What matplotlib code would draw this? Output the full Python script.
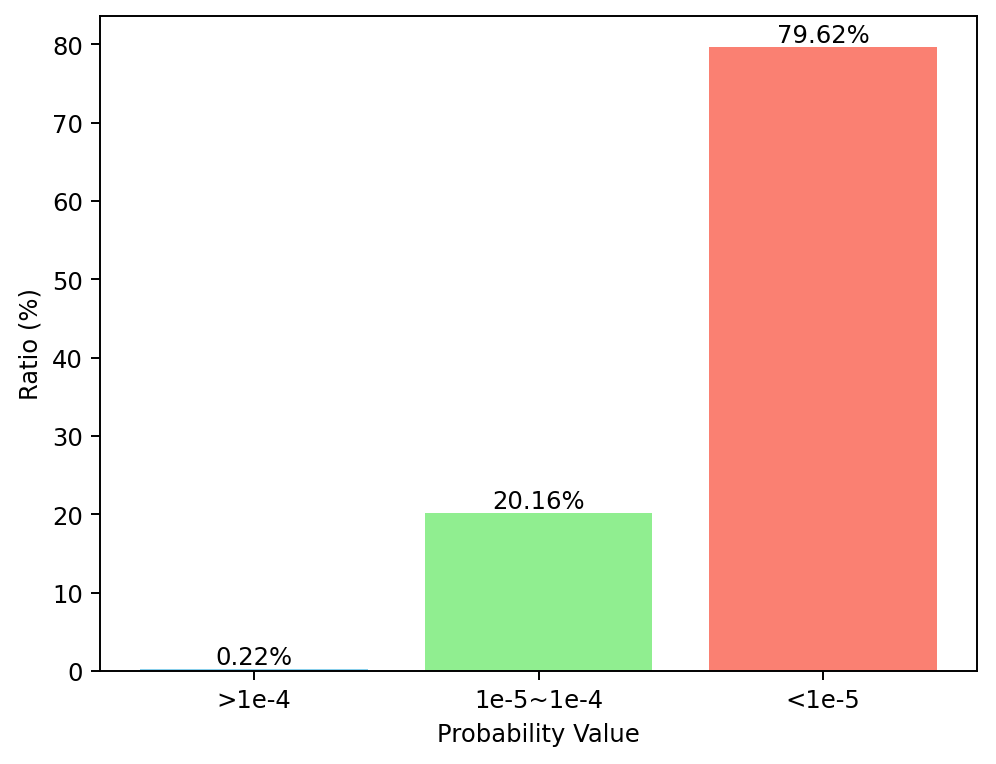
import matplotlib
matplotlib.use("Agg")
import matplotlib.pyplot as plt

categories = [">1e-4", "1e-5~1e-4", "<1e-5"]
values = [0.22, 20.16, 79.62]
colors = ["skyblue", "lightgreen", "salmon"]

dpi = 175
fig = plt.figure(figsize=(996 / dpi, 765 / dpi), dpi=dpi)
ax = fig.add_axes([100 / 996, 1 - 672 / 765, 877 / 996, 655 / 765])
bars = ax.bar(categories, values, color=colors)
for b, v in zip(bars, values):
    ax.text(b.get_x() + b.get_width() / 2, v, f"{v:.2f}%", ha="center", va="bottom")
ax.set_xlabel("Probability Value")
ax.set_ylabel("Ratio (%)")
fig.savefig("out.png", dpi=dpi)
